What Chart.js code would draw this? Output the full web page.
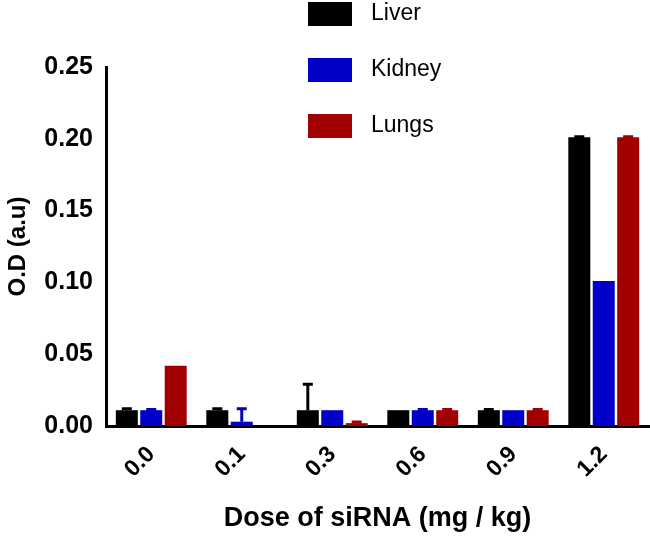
<!DOCTYPE html>
<html>
<head>
<meta charset="utf-8">
<script src="https://cdn.jsdelivr.net/npm/chart.js@4"></script>
<style>
  html, body { margin: 0; padding: 0; background: #fff; }
  #wrap { width: 650px; height: 536px; }
</style>
</head>
<body>
<div id="wrap"><canvas id="chart" width="650" height="536"></canvas></div>
<script>
// dose groups and O.D readings per organ
const doses = ['0.0', '0.1', '0.3', '0.6', '0.9', '1.2'];
const liver = [0.011, 0.011, 0.011, 0.011, 0.011, 0.201];
const kidney = [0.011, 0.003, 0.011, 0.011, 0.011, 0.101];
const lungs = [0.042, 0, 0.002, 0.011, 0.011, 0.201];
// upper error (SD)
const liverErr = [0.001, 0.001, 0.018, 0, 0.0005, 0.0005];
const kidneyErr = [0.0005, 0.009, 0, 0.0005, 0, 0];
const lungsErr = [0, 0, 0.0008, 0.0005, 0.0005, 0.0005];
const yTicks = [0, 0.05, 0.10, 0.15, 0.20, 0.25];

const font = 'Arial, "Liberation Sans", sans-serif';

// draw error bars on top of the bars
const errorBars = {
    id: 'errorBars',
    afterDatasetsDraw(chart) {
        const ctx = chart.ctx;
        const y = chart.scales.y;
        chart.data.datasets.forEach((ds, i) => {
            const meta = chart.getDatasetMeta(i);
            meta.data.forEach((bar, j) => {
                const err = ds.errors[j];
                if (!err || ds.data[j] === 0) return;
                const top = y.getPixelForValue(ds.data[j] + err);
                ctx.save();
                ctx.strokeStyle = ds.backgroundColor;
                ctx.lineWidth = 3;
                ctx.beginPath();
                ctx.moveTo(bar.x, bar.y);
                ctx.lineTo(bar.x, top);
                ctx.moveTo(bar.x - 5, top);
                ctx.lineTo(bar.x + 5, top);
                ctx.stroke();
                ctx.restore();
            });
        });
    }
};

// legend drawn in the top area, overlapping the plot
const topLegend = {
    id: 'topLegend',
    afterDraw(chart) {
        const ctx = chart.ctx;
        ctx.save();
        chart.data.datasets.forEach((ds, i) => {
            const cy = 13 + i * 56;
            ctx.fillStyle = ds.backgroundColor;
            ctx.fillRect(308, cy - 11, 44, 24);
            ctx.fillStyle = '#000';
            ctx.font = '23px ' + font;
            ctx.textBaseline = 'middle';
            ctx.textAlign = 'left';
            ctx.fillText(ds.label, 371, cy + 1);
        });
        ctx.restore();
    }
};

new Chart(document.getElementById('chart'), {
    type: 'bar',
    data: {
        labels: doses,
        datasets: [
            { label: 'Liver', data: liver, errors: liverErr, backgroundColor: '#000000' },
            { label: 'Kidney', data: kidney, errors: kidneyErr, backgroundColor: '#0000c8' },
            { label: 'Lungs', data: lungs, errors: lungsErr, backgroundColor: '#a00000' }
        ]
    },
    options: {
        responsive: false,
        animation: false,
        layout: { padding: { top: 67, right: 1, left: 0, bottom: 0 } },
        datasets: { bar: { categoryPercentage: 0.81, barPercentage: 0.9 } },
        plugins: { legend: { display: false }, tooltip: { enabled: false } },
        scales: {
            x: {
                grid: { display: false, drawTicks: true, tickLength: 9, tickWidth: 3, tickColor: '#000' },
                border: { color: '#000', width: 3 },
                ticks: {
                    color: '#000',
                    font: { family: font, size: 23, weight: 'bold' },
                    maxRotation: 45, minRotation: 45, padding: 6
                },
                title: {
                    display: true, text: 'Dose of siRNA (mg / kg)', color: '#000',
                    font: { family: font, size: 27, weight: 'bold' }, padding: { top: 4, bottom: 1 }
                },
                afterFit(scale) { scale.height = 110; }
            },
            y: {
                min: 0, max: 0.25,
                grid: { display: false, drawTicks: true, tickLength: 9, tickWidth: 3, tickColor: '#000' },
                border: { color: '#000', width: 3 },
                afterBuildTicks(scale) { scale.ticks = yTicks.map(v => ({ value: v })); },
                ticks: {
                    color: '#000',
                    font: { family: font, size: 25, weight: 'bold' },
                    padding: 4,
                    callback: v => v.toFixed(2)
                },
                title: {
                    display: true, text: 'O.D (a.u)', color: '#000',
                    font: { family: font, size: 24, weight: 'bold' }, padding: { bottom: 4 }
                },
                afterFit(scale) { scale.width = 106; }
            }
        }
    },
    plugins: [errorBars, topLegend]
});
</script>
</body>
</html>
